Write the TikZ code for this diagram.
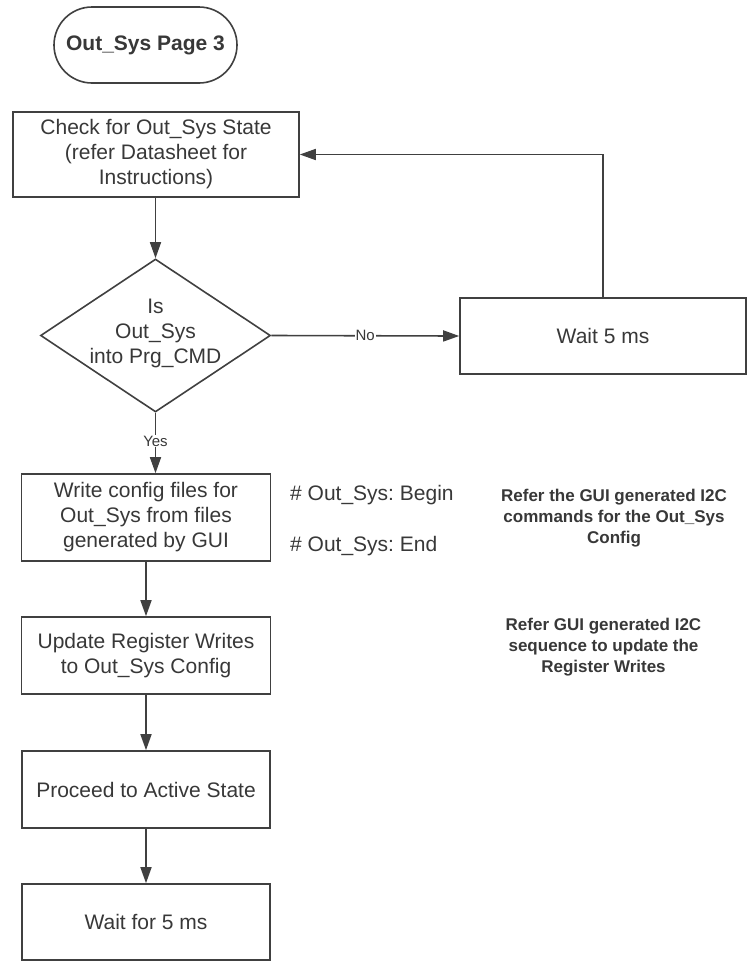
\documentclass[tikz,border=0pt]{standalone}
\usepackage{fontspec}
\setmainfont{Liberation Sans}
\usetikzlibrary{arrows.meta,shapes.geometric}
\definecolor{ln}{HTML}{404040}
\definecolor{tx}{HTML}{383838}
\frenchspacing
\tikzset{
  base/.style={draw=ln, line width=1.6pt, text=tx, align=center, inner sep=0pt,
    font=\fontsize{21}{25}\selectfont},
  procbox/.style={base, rectangle},
  termbox/.style={base, rectangle, rounded corners=38pt, font=\fontsize{21}{25}\selectfont\bfseries},
  decision/.style={base, diamond},
  plain/.style={text=tx, align=center, inner sep=0pt, font=\fontsize{21}{25}\selectfont},
  note/.style={text=tx, align=center, inner sep=0pt, font=\fontsize{17}{21}\selectfont\bfseries},
  lbl/.style={text=tx, fill=white, inner sep=1pt, font=\fontsize{15}{18}\selectfont},
  arr/.style={draw=ln, line width=1.6pt, -{Triangle[length=16pt,width=11pt]}}
}
\begin{document}
\begin{tikzpicture}[x=1pt,y=-1pt]
\useasboundingbox (0,0) rectangle (748,962);
\fill[white] (0,0) rectangle (748,962);

\node[termbox, minimum width=183pt, minimum height=76pt] (t) at (145.5,45) {Out\_Sys Page 3};

\node[procbox, minimum width=286pt, minimum height=85pt] (b1) at (156,154.5)
  {Check for Out\_Sys State\\(refer Datasheet for\\Instructions)};

\node[decision, minimum width=230pt, minimum height=153pt] (d) at (155.5,335.5) {};
\node[plain] (dt) at (155.5,333) {Is\\Out\_Sys\\into Prg\_CMD};

\node[procbox, minimum width=286pt, minimum height=76pt] (w) at (603,336) {Wait 5 ms};

\node[procbox, minimum width=249pt, minimum height=87pt] (b2) at (146,517.5)
  {Write config files for\\Out\_Sys from files\\generated by GUI};

\node[procbox, minimum width=249pt, minimum height=77pt] (b3) at (146,655.5)
  {Update Register Writes\\to Out\_Sys Config};

\node[procbox, minimum width=248pt, minimum height=77pt] (b4) at (146,789.5)
  {Proceed to Active State};

\node[procbox, minimum width=248pt, minimum height=76pt] (b5) at (146,922)
  {Wait for 5 ms};

\node[plain, anchor=west] (c1) at (290,495) {\# Out\_Sys: Begin};
\node[plain, anchor=west] (c2) at (290,546) {\# Out\_Sys: End};

\node[note] (n1) at (614,518) {Refer the GUI generated I2C\\commands for the Out\_Sys\\Config};
\node[note] (n2) at (603.5,647) {Refer GUI generated I2C\\sequence to update the\\Register Writes};

\draw[arr] (b1.south -| d.north) -- (d.north);
\draw[arr] (d.east) -- node[lbl] (no) {No} (w.west);
\draw[arr] (w.north) |- (b1.east);
\draw[arr] (d.south) -- node[lbl, pos=0.47] (yes) {Yes} (d.south |- b2.north);
\draw[arr] (b2.south) -- (b3.north);
\draw[arr] (b3.south) -- (b4.north);
\draw[arr] (b4.south) -- (b5.north);
\end{tikzpicture}
\end{document}
